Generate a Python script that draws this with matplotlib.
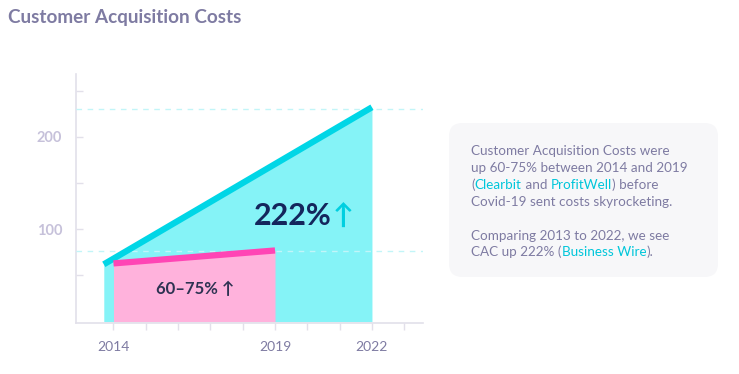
import matplotlib
matplotlib.use('Agg')
import matplotlib.pyplot as plt
from matplotlib.patches import FancyBboxPatch

# data
cac_years = [2013.7, 2022]
cac_values = [62, 232]
early_years = [2014, 2019]
early_values = [63, 77]
ref_levels = [230, 76]
x_ticks = list(range(2014, 2024))
x_labels = {2014: '2014', 2019: '2019', 2022: '2022'}
y_ticks = [50, 100, 150, 200, 250]
y_labels = ['', '100', '', '200', '']

TITLE = 'Customer Acquisition Costs'
NOTE = [
    [('Customer Acquisition Costs were', 'base')],
    [('up 60-75% between 2014 and 2019', 'base')],
    [('(', 'base'), ('Clearbit', 'link'), (' and ', 'base'),
     ('ProfitWell', 'link'), (') before', 'base')],
    [('Covid-19 sent costs skyrocketing.', 'base')],
    [],
    [('Comparing 2013 to 2022, we see', 'base')],
    [('CAC up 222% (', 'base'), ('Business Wire', 'link'), (').', 'base')],
]

W, H = 739, 374
CYAN_FILL = '#85f3f7'
CYAN_LINE = '#00d6e6'
PINK_FILL = '#ffb2dc'
PINK_LINE = '#ff45b5'
GRID = '#c2f5f8'
SPINE = '#e2e0ea'
TXT = '#7e7ba2'
FONT = ['Lato', 'DejaVu Sans']


def px(x, y):
    '''pixel position (from top-left) to figure fraction'''
    return x / W, 1 - y / H


def text_width(fig, s, **kw):
    '''width of a string in figure fraction, trailing spaces included'''
    r = fig.canvas.get_renderer()
    a = fig.text(0, 0, s + '|', **kw)
    b = fig.text(0, 0, '|', **kw)
    w = a.get_window_extent(r).width - b.get_window_extent(r).width
    a.remove()
    b.remove()
    return w / fig.bbox.width


def main():
    fig = plt.figure(figsize=(W / 100, H / 100), dpi=100)
    ax = fig.add_axes([76 / W, 51 / H, 347 / W, 249 / H])

    ax.fill_between(cac_years, cac_values, color=CYAN_FILL, lw=0, zorder=1)
    ax.fill_between(early_years, early_values, color=PINK_FILL, lw=0, zorder=2)
    for lvl in ref_levels:
        ax.axhline(lvl, color=GRID, lw=1, ls=(0, (4, 4)), zorder=3)
    ax.plot(cac_years, cac_values, color=CYAN_LINE, lw=4.5,
            solid_capstyle='butt', zorder=4)
    ax.plot(early_years, early_values, color=PINK_LINE, lw=4.5,
            solid_capstyle='butt', zorder=5)

    ax.text(2020.75, 105, '222%', ha='right', va='baseline', fontsize=22,
            fontweight='bold', color='#14265c', family=FONT, zorder=6)
    ax.text(2020.78, 105, '↑', ha='left', va='baseline', fontsize=20,
            fontweight='bold', color='#00cfe0', family=FONT, zorder=6)
    ax.text(2016.52, 29.5, '60–75% ↑', ha='center', va='baseline',
            fontsize=12, fontweight='bold', color='#2e3352', family=FONT,
            zorder=6)

    ax.set_xlim(2012.84, 2023.58)
    ax.set_ylim(-1.5, 268)
    ax.set_xticks(x_ticks)
    ax.set_xticklabels([x_labels.get(t, '') for t in x_ticks])
    ax.set_yticks(y_ticks)
    ax.set_yticklabels(y_labels)
    ax.tick_params(axis='x', direction='out', length=5, width=1,
                   color=SPINE, pad=8, labelsize=10, labelcolor=TXT)
    ax.tick_params(axis='y', direction='in', length=5, width=1,
                   color=SPINE, pad=10, labelsize=10.5, labelcolor='#c6c1da')
    for lbl in ax.get_xticklabels() + ax.get_yticklabels():
        lbl.set_family(FONT)
    for lbl in ax.get_yticklabels():
        lbl.set_fontweight('bold')
    for side in ('top', 'right'):
        ax.spines[side].set_visible(False)
    for side in ('left', 'bottom'):
        ax.spines[side].set_color(SPINE)
        ax.spines[side].set_linewidth(1.2)

    # title
    x, y = px(8, 18)
    fig.text(x, y, TITLE, ha='left', va='center', fontsize=13.6,
             fontweight='bold', color=TXT, family=FONT)

    # note box
    x0, y0 = px(449, 277)
    x1, y1 = px(718, 123)
    box = FancyBboxPatch((x0, y0), x1 - x0, y1 - y0,
                         boxstyle='round,pad=0,rounding_size=0.018',
                         transform=fig.transFigure, facecolor='#f7f7f9',
                         edgecolor='none', mutation_aspect=W / H)
    fig.patches.append(box)

    colours = {'base': TXT, 'link': '#00c6da'}
    kw = dict(fontsize=9.7, family=FONT)
    base_y = 155
    for line in NOTE:
        lx, ly = px(471, base_y)
        for s, c in line:
            fig.text(lx, ly, s, ha='left', va='baseline',
                     color=colours[c], **kw)
            lx += text_width(fig, s, **kw)
        base_y += 16.9

    fig.savefig('out.png', dpi=100)


if __name__ == '__main__':
    main()
